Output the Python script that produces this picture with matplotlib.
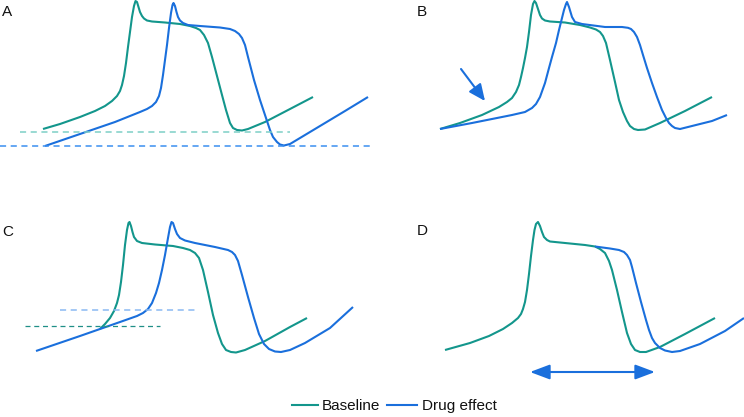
import matplotlib.pyplot as plt

plt.rcParams['font.family'] = ['Liberation Sans', 'DejaVu Sans']

# colours
TEAL = '#13968c'
BLUE = '#1a6fdc'

# curves in pixel coords (x right, y down)
# panel A
a_base_x = [43, 60, 80, 95, 105, 112, 117, 120, 122, 124, 126, 128, 130, 132, 134, 135.5, 137, 138.5, 140, 142, 144, 147, 152, 165, 180, 190, 196, 200, 204, 208, 212, 217, 222, 226, 230, 233, 237, 242, 248, 265, 290, 313]
a_base_y = [129, 124, 117, 111, 106, 101, 96, 91, 85, 76, 63, 47, 32, 17, 6, 1, 2, 7, 12, 16, 18.5, 20.5, 21.5, 22.5, 24, 26, 28, 30, 35, 43, 57, 76, 95, 110, 123, 128, 130, 130.5, 129, 122, 109, 97]
a_drug_x = [45, 80, 115, 140, 147, 152, 156, 159, 161, 163, 165, 167, 169, 171, 172.5, 173.5, 175, 176.5, 178, 180, 183, 188, 200, 220, 230, 235, 239, 242, 245, 248, 254, 260, 265, 270, 273, 277, 280, 284, 290, 300, 320, 345, 368]
a_drug_y = [146, 134, 122, 112, 109, 106, 102, 96, 88, 75, 60, 45, 28, 13, 5, 3, 6, 12, 17, 20.5, 23, 25, 26, 27.5, 29, 31, 34, 38, 45, 57, 80, 100, 115, 130, 137, 142, 144.5, 145.5, 144, 138, 126, 111, 97]

# panel B
b_base_x = [440, 460, 482, 499, 507, 512, 516, 519, 521, 523, 525, 527, 529, 531, 533, 534.5, 536, 538, 540, 542, 545, 550, 565, 580, 590, 596, 600, 603, 606, 610, 615, 619, 623, 627, 630, 634, 638, 645, 660, 685, 712]
b_base_y = [129, 123, 115, 107, 102, 98, 92, 85, 77, 68, 58, 47, 32, 15, 4, 1, 3, 9, 15, 18.5, 20.5, 21.5, 22.5, 25, 27.5, 29.5, 32, 36, 43, 60, 82, 100, 112, 121, 126, 129, 130, 129.5, 123, 111, 97]
b_drug_x = [440, 472, 512, 525, 532, 536, 540, 545, 549, 552, 556, 559, 562, 564, 566, 567, 569, 572, 575, 582, 605, 622, 628, 631, 634, 637, 640, 643, 647, 652, 657, 662, 666, 669, 672, 675, 680, 692, 712, 727]
b_drug_y = [129, 123, 115, 112, 108, 104, 97, 83, 68, 57, 43, 30, 18, 10, 4, 2, 7, 17, 22, 24, 27, 27, 27.8, 29, 32, 37, 45, 55, 68, 83, 97, 110, 118, 123, 126, 128, 129, 126, 121, 115]

# panel C
c_base_x = [100, 105, 110, 114, 117, 119, 121, 123, 125, 127, 128.5, 129.5, 131, 132.5, 134, 137, 142, 155, 173, 183, 190, 195, 199, 203, 208, 213, 218, 222, 226, 231, 236, 245, 265, 290, 307]
c_base_y = [329, 324, 318, 311, 303, 295, 282, 265, 245, 230, 223, 222, 226, 232, 237, 241, 243, 244.5, 246, 248, 250, 253, 258, 270, 292, 315, 333, 344, 350, 352, 352.5, 350, 341, 327, 318]
c_drug_x = [36, 80, 120, 137, 143, 148, 152, 156, 159, 162, 165, 168, 170, 171.5, 173, 175, 177, 180, 185, 195, 215, 228, 232, 235, 238, 242, 248, 254, 259, 264, 269, 275, 281, 290, 305, 330, 353]
c_drug_y = [351, 336, 322, 316, 313, 309, 303, 293, 283, 270, 255, 238, 227, 222, 223, 229, 234, 238, 240.5, 243, 247, 250, 252, 255, 261, 275, 297, 318, 334, 344, 349, 351.5, 352, 350, 343, 328, 307]

# panel D
d_base_x = [445, 470, 489, 503, 512, 518, 521, 523, 525, 527, 529, 531, 533, 534.5, 536, 538, 540, 542, 544, 547, 550, 565, 585, 595, 600, 605, 609, 612, 617, 622, 627, 631, 635, 640, 646, 660, 685, 715]
d_base_y = [350, 343, 336, 329, 323, 318, 314, 309, 302, 290, 274, 256, 240, 230, 224, 222, 226, 232, 237, 240, 241.5, 243, 245, 246.5, 249, 253, 261, 270, 290, 312, 333, 344, 350, 352, 352, 347, 334, 318]
d_drug_x = [595, 610, 619, 624, 627, 630, 632, 636, 641, 646, 649, 652, 655, 660, 665, 672, 680, 700, 725, 744]
d_drug_y = [246.5, 248.5, 250, 252, 255, 260, 267, 283, 302, 320, 330, 338, 343, 348, 350.5, 352, 351, 344, 331, 318]

panel_labels = ['A', 'B', 'C', 'D']
legend_labels = ['Baseline', 'Drug effect']

fig = plt.figure(figsize=(7.44, 4.17), dpi=100)
ax = fig.add_axes([0, 0, 1, 1])
ax.set_xlim(0, 744)
ax.set_ylim(417, 0)
ax.axis('off')

lw = 1.5
for xs, ys in [(a_base_x, a_base_y), (b_base_x, b_base_y), (c_base_x, c_base_y), (d_base_x, d_base_y)]:
    ax.plot(xs, ys, color=TEAL, lw=lw, solid_capstyle='butt', solid_joinstyle='round')
for xs, ys in [(a_drug_x, a_drug_y), (b_drug_x, b_drug_y), (c_drug_x, c_drug_y), (d_drug_x, d_drug_y)]:
    ax.plot(xs, ys, color=BLUE, lw=lw, solid_capstyle='butt', solid_joinstyle='round')

# threshold / resting lines
ax.plot([20, 290], [131.5, 131.5], ls=(0, (4, 3)), color='#7dcfc6', lw=1.1)
ax.plot([0, 372], [146, 146], ls=(0, (4, 3)), color='#3b8ff0', lw=1.1)
ax.plot([60, 195], [310, 310], ls=(0, (4, 3)), color='#8ab9f2', lw=1.1)
ax.plot([25, 160], [325.5, 325.5], ls=(0, (4, 3)), color='#1f8f87', lw=0.9)

# arrows
ax.annotate('', xy=(485, 101), xytext=(461, 69),
            arrowprops=dict(arrowstyle='-|>,head_length=1.0,head_width=0.45', color=BLUE, lw=1.5, shrinkA=0, shrinkB=0))
ax.annotate('', xy=(655, 372), xytext=(530, 372),
            arrowprops=dict(arrowstyle='<|-|>,head_length=1.2,head_width=0.45', color=BLUE, lw=1.5, shrinkA=0, shrinkB=0))

# panel letters
for lab, (x, y) in zip(panel_labels, [(2, 12), (417, 12), (2, 232), (417, 231)]):
    ax.text(x, y, lab, fontsize=11, va='center', ha='left', color='#111111')

# legend
ax.plot([292, 318], [405, 405], color=TEAL, lw=lw)
ax.text(322, 406, legend_labels[0], fontsize=11, va='center', ha='left', color='#111111')
ax.plot([387, 417], [405, 405], color=BLUE, lw=lw)
ax.text(422, 406, legend_labels[1], fontsize=11, va='center', ha='left', color='#111111')

fig.savefig('out.png', dpi=100)
